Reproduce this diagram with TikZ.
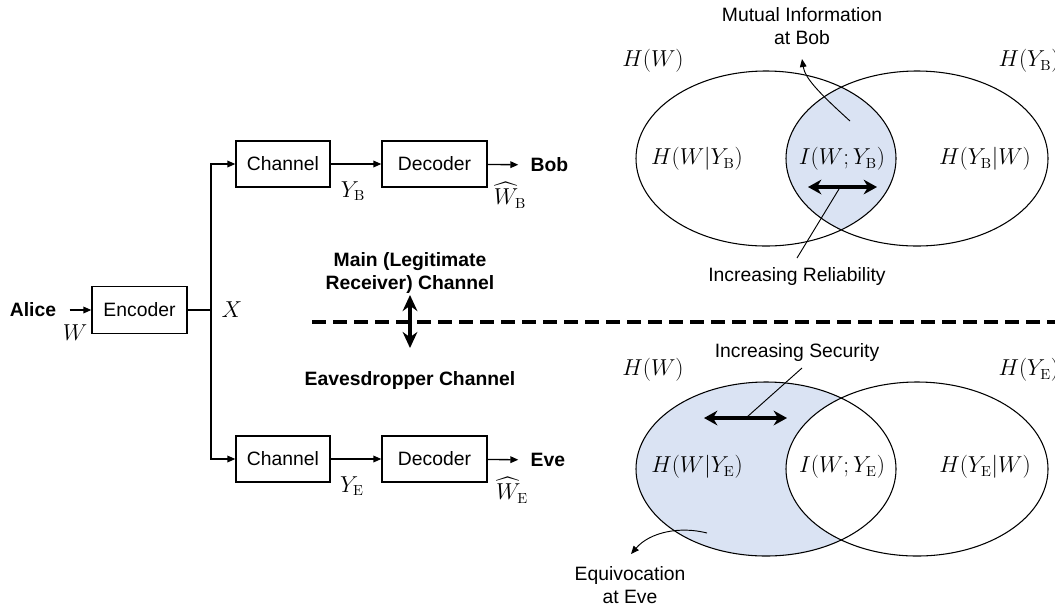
\documentclass[tikz,border=0pt]{standalone}
\usepackage[no-math]{fontspec}
\setmainfont{Liberation Sans}
\usepackage{amsmath}
\usetikzlibrary{arrows.meta,positioning}
\definecolor{vennblue}{HTML}{DAE3F3}
\begin{document}
\begin{tikzpicture}[x=0.75pt, y=-0.75pt,
    font=\fontsize{14.5}{17}\selectfont,
    node distance=38pt,
    block/.style={draw, line width=1pt, minimum width=70.5pt, minimum height=34.5pt, inner sep=2pt},
    tag/.style={font=\fontsize{14.5}{17}\selectfont\bfseries, inner sep=1pt},
    mlbl/.style={font=\fontsize{16}{18}\selectfont, inner sep=1pt},
    arr/.style={line width=1pt, -{Triangle[length=6pt,width=5pt]}},
    dbl/.style={line width=2.8pt, {Stealth[length=10pt,width=11pt]}-{Stealth[length=10pt,width=11pt]}},
    vdbl/.style={line width=3.4pt, {Stealth[length=12pt,width=11pt]}-{Stealth[length=12pt,width=11pt]}},
    venn/.style={line width=0.8pt},
    pointer/.style={line width=0.7pt}]

    \useasboundingbox (0,0) rectangle (1055,608);

    % Define nodes
    \node[tag]                                   (alice) at (33,310) {Alice};
    \node[block, minimum width=71.25pt, minimum height=35pt] (enc) at (139.5,310) {Encoder};
    \node[mlbl]                                  (w) at (75,333) {$W$};
    \coordinate                                  (split) at (211,310);
    \node[mlbl]                                  (x) at (232,310) {$X$};

    \node[block]                                 (chB) at (283,164) {Channel};
    \node[block, minimum width=78.75pt, right=of chB] (decB) {Decoder};
    \node[tag, anchor=west]                      (bob) at (529,165) {Bob};
    \node[mlbl]                                  (yB) at (353,191) {$Y_{\mathrm{B}}$};
    \node[mlbl]                                  (wB) at (510,195) {$\widehat{W}_{\mathrm{B}}$};

    \node[block]                                 (chE) at (283,459) {Channel};
    \node[block, minimum width=78.75pt, right=of chE] (decE) {Decoder};
    \node[tag, anchor=west]                      (eve) at (529,460) {Eve};
    \node[mlbl]                                  (yE) at (352,486) {$Y_{\mathrm{E}}$};
    \node[mlbl]                                  (wE) at (512,490) {$\widehat{W}_{\mathrm{E}}$};

    \node[tag, align=center]                     (main) at (410,273) {Main (Legitimate\\Receiver) Channel};
    \node[tag]                                   (eaves) at (410,380) {Eavesdropper Channel};
    \coordinate                                  (up) at (410,295);
    \coordinate                                  (down) at (410,348);
    \coordinate                                  (dashL) at (312,322);
    \coordinate                                  (dashR) at (1055,322);

    % Connect the nodes
    \draw[arr, shorten <=9pt] (alice) -- (enc);
    \draw[line width=1pt] (enc) -- (split);
    \draw[arr] (split) |- (chB);
    \draw[arr] (split) |- (chE);
    \draw[arr] (chB) -- (decB);
    \draw[arr] (chE) -- (decE);
    \draw[arr, shorten >=8pt] (decB) -- (bob);
    \draw[arr, shorten >=8pt] (decE) -- (eve);
    \draw[line width=2.8pt, dash pattern=on 10.5pt off 5.25pt] (dashL) -- (dashR);
    \draw[vdbl] (up) -- (down);

    % Venn diagram at Bob
    \begin{scope}
      \clip (766,158.5) ellipse [x radius=130, y radius=87.5];
      \fill[vennblue] (917,158.5) ellipse [x radius=131, y radius=87.5];
    \end{scope}
    \draw[venn] (766,158.5) ellipse [x radius=130, y radius=87.5];
    \draw[venn] (917,158.5) ellipse [x radius=131, y radius=87.5];

    \node[mlbl]                                  (hW1) at (653,61) {$H(W)$};
    \node[mlbl, anchor=west]                     (hYB) at (997,61) {$H(Y_{\mathrm{B}})$};
    \node[mlbl]                                  (hWYB) at (697,159) {$H(W|Y_{\mathrm{B}})$};
    \node[mlbl]                                  (iB) at (842,159) {$I(W;Y_{\mathrm{B}})$};
    \node[mlbl]                                  (hYBW) at (985,159) {$H(Y_{\mathrm{B}}|W)$};
    \node[align=center]                          (mut) at (802,26) {Mutual Information\\at Bob};
    \node                                        (rel) at (797,276) {Increasing Reliability};
    \coordinate                                  (relL) at (808,187);
    \coordinate                                  (relR) at (877,187);
    \coordinate                                  (relA) at (797,258);
    \coordinate                                  (relB) at (839,189);
    \coordinate                                  (mutA) at (850,121);
    \coordinate                                  (mutB) at (802,59);

    \draw[dbl] (relL) -- (relR);
    \draw[pointer] (relA) -- (relB);
    \draw[pointer, -{Triangle[length=6pt,width=5pt]}] (mutA) .. controls (818,92) and (805,78) .. (mutB);

    % Venn diagram at Eve
    \fill[vennblue] (766,469) ellipse [x radius=130, y radius=87];
    \begin{scope}
      \clip (766,469) ellipse [x radius=130, y radius=87];
      \fill[white] (917,469) ellipse [x radius=131, y radius=87];
    \end{scope}
    \draw[venn] (766,469) ellipse [x radius=130, y radius=87];
    \draw[venn] (917,469) ellipse [x radius=131, y radius=87];

    \node[mlbl]                                  (hW2) at (653,370) {$H(W)$};
    \node[mlbl, anchor=west]                     (hYE) at (997,370) {$H(Y_{\mathrm{E}})$};
    \node[mlbl]                                  (hWYE) at (697,467) {$H(W|Y_{\mathrm{E}})$};
    \node[mlbl]                                  (iE) at (842,467) {$I(W;Y_{\mathrm{E}})$};
    \node[mlbl]                                  (hYEW) at (985,467) {$H(Y_{\mathrm{E}}|W)$};
    \node                                        (sec) at (797,352) {Increasing Security};
    \node[align=center]                          (equi) at (630,585) {Equivocation\\at Eve};
    \coordinate                                  (secL) at (704,418);
    \coordinate                                  (secR) at (787,418);
    \coordinate                                  (secA) at (802,368);
    \coordinate                                  (secB) at (747,417);
    \coordinate                                  (equA) at (707,533);
    \coordinate                                  (equB) at (631,554);

    \draw[dbl] (secL) -- (secR);
    \draw[pointer] (secA) -- (secB);
    \draw[pointer, -{Triangle[length=6pt,width=5pt]}] (equA) .. controls (680,526) and (650,532) .. (equB);

\end{tikzpicture}
\end{document}
